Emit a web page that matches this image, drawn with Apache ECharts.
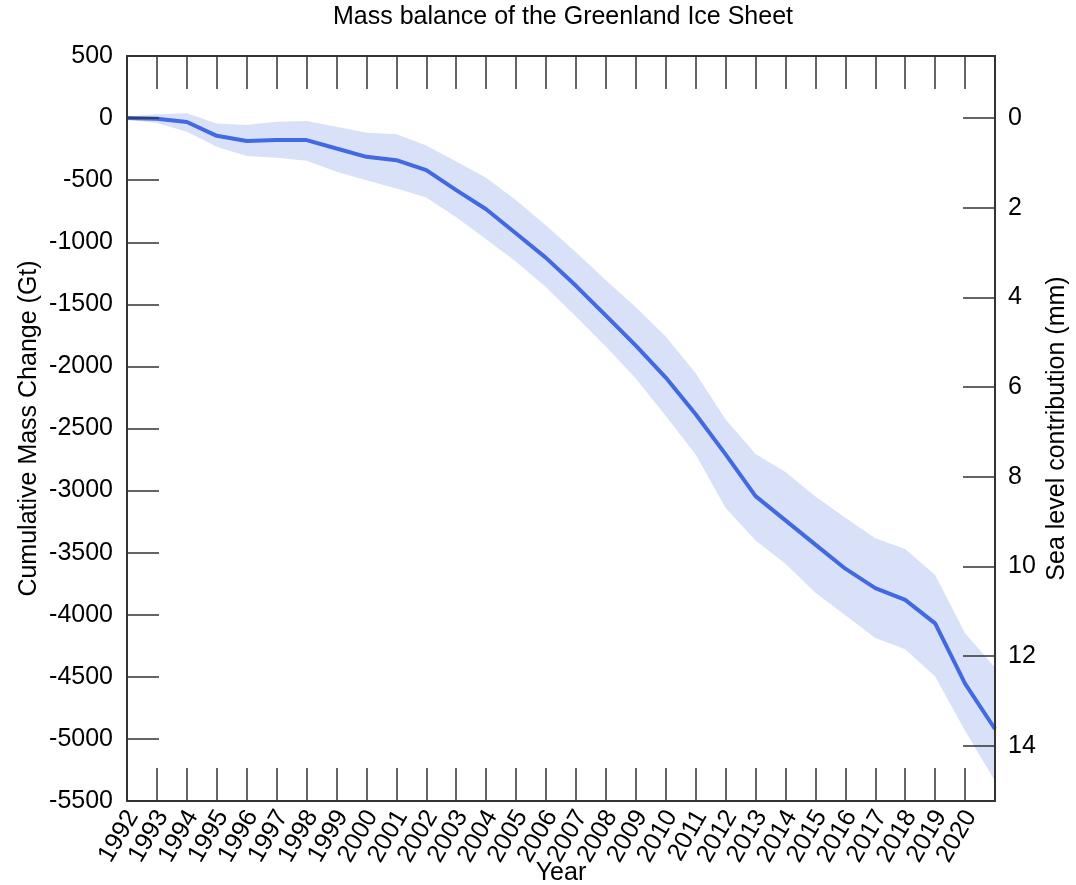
<!DOCTYPE html>
<html><head><meta charset="utf-8">
<script src="https://cdn.jsdelivr.net/npm/echarts@6/dist/echarts.min.js"></script>
<style>html,body{margin:0;padding:0;background:#fff}#c{width:1076px;height:885px}</style>
</head><body><div id="c"></div>
<script>
const years = [1992,1993,1994,1995,1996,1997,1998,1999,2000,2001,2002,2003,2004,2005,2006,2007,2008,2009,2010,2011,2012,2013,2014,2015,2016,2017,2018,2019,2020,2021];
const massChange = [0,-5,-32,-143,-185,-177,-177,-245,-312,-339,-419,-580,-734,-930,-1126,-1351,-1591,-1833,-2090,-2385,-2708,-3045,-3240,-3435,-3629,-3785,-3880,-4070,-4555,-4920];
const upperBound = [12,30,38,-43,-56,-30,-24,-70,-118,-131,-220,-350,-480,-661,-866,-1081,-1306,-1524,-1760,-2056,-2427,-2706,-2851,-3048,-3219,-3383,-3470,-3680,-4148,-4425];
const lowerBound = [-12,-40,-110,-231,-306,-320,-344,-433,-500,-567,-640,-798,-976,-1157,-1363,-1597,-1839,-2097,-2400,-2710,-3140,-3403,-3589,-3823,-4005,-4188,-4277,-4497,-4935,-5339];
const seaLevelTicks = [0,2,4,6,8,10,12,14];
const GT_PER_MM = 361;

const font = '"Liberation Sans", Arial, sans-serif';
const axisColor = '#333';
const tickStyle = {color: axisColor, width: 1.5};
const lineStyleAxis = {color: axisColor, width: 2};

const chart = echarts.init(document.getElementById('c'), null, {renderer: 'canvas'});
chart.setOption({
  animation: false,
  textStyle: {fontFamily: font},
  title: {
    text: 'Mass balance of the Greenland Ice Sheet',
    left: 328, top: 0,
    textStyle: {fontSize: 25, fontWeight: 'normal', color: '#000', fontFamily: font}
  },
  grid: {left: 127, right: 81, top: 56, bottom: 84, outerBoundsMode: 'none', containLabel: false},
  xAxis: [
    {
      type: 'value', position: 'bottom', min: 1992, max: 2021, interval: 1,
      name: 'Year', nameLocation: 'middle', nameGap: 60, nameMoveOverlap: false,
      nameTextStyle: {fontSize: 25, color: '#000', fontFamily: font},
      axisLine: {onZero: false, lineStyle: lineStyleAxis},
      axisTick: {inside: true, length: 33, lineStyle: tickStyle},
      axisLabel: {rotate: 60, fontSize: 25, color: '#000', margin: 8, fontFamily: font,
        verticalAlign: 'top', lineHeight: 13,
        formatter: v => (v <= 2020 ? String(v) : '')},
      splitLine: {show: false}, z: 5
    },
    {
      type: 'value', position: 'top', min: 1992, max: 2021, interval: 1,
      axisLine: {onZero: false, lineStyle: lineStyleAxis},
      axisTick: {inside: true, length: 33, lineStyle: tickStyle},
      axisLabel: {show: false}, splitLine: {show: false}, z: 5
    }
  ],
  yAxis: [
    {
      type: 'value', position: 'left', min: -5500, max: 500, interval: 500,
      name: 'Cumulative Mass Change (Gt)', nameLocation: 'middle', nameGap: 85, nameRotate: 90,
      nameMoveOverlap: false,
      nameTextStyle: {fontSize: 25, color: '#000', fontFamily: font},
      axisLine: {show: true, onZero: false, lineStyle: lineStyleAxis},
      axisTick: {show: true, inside: true, length: 32, lineStyle: tickStyle},
      axisLabel: {fontSize: 25, color: '#000', margin: 14, fontFamily: font, formatter: v => String(v)},
      splitLine: {show: false}, z: 5
    },
    {
      type: 'value', position: 'right', inverse: true,
      min: -500 / GT_PER_MM, max: 5500 / GT_PER_MM,
      name: 'Sea level contribution (mm)', nameLocation: 'middle', nameGap: 50, nameRotate: 90,
      nameMoveOverlap: false,
      nameTextStyle: {fontSize: 25, color: '#000', fontFamily: font},
      axisLine: {show: true, onZero: false, lineStyle: lineStyleAxis},
      axisTick: {show: true, inside: true, length: 32, lineStyle: tickStyle, customValues: seaLevelTicks},
      axisLabel: {fontSize: 25, color: '#000', margin: 13, fontFamily: font, customValues: seaLevelTicks},
      splitLine: {show: false}, z: 5
    }
  ],
  series: [
    {
      name: 'Uncertainty', type: 'custom', silent: true, z: 1,
      data: years.map((y, i) => [y, upperBound[i], lowerBound[i]]),
      encode: {x: 0, y: [1, 2]},
      renderItem: (params, api) => {
        if (params.dataIndex !== 0) return null;
        const top = years.map((y, i) => api.coord([y, upperBound[i]]));
        const bot = years.map((y, i) => api.coord([y, lowerBound[i]])).reverse();
        return {
          type: 'polygon',
          shape: {points: top.concat(bot)},
          style: {fill: 'rgba(65,105,225,0.2)', stroke: null}
        };
      }
    },
    {
      name: 'Cumulative mass change', type: 'line',
      data: years.map((y, i) => [y, massChange[i]]),
      symbol: 'none',
      lineStyle: {color: '#4169e1', width: 4}, z: 2
    }
  ]
});
</script>
</body></html>
